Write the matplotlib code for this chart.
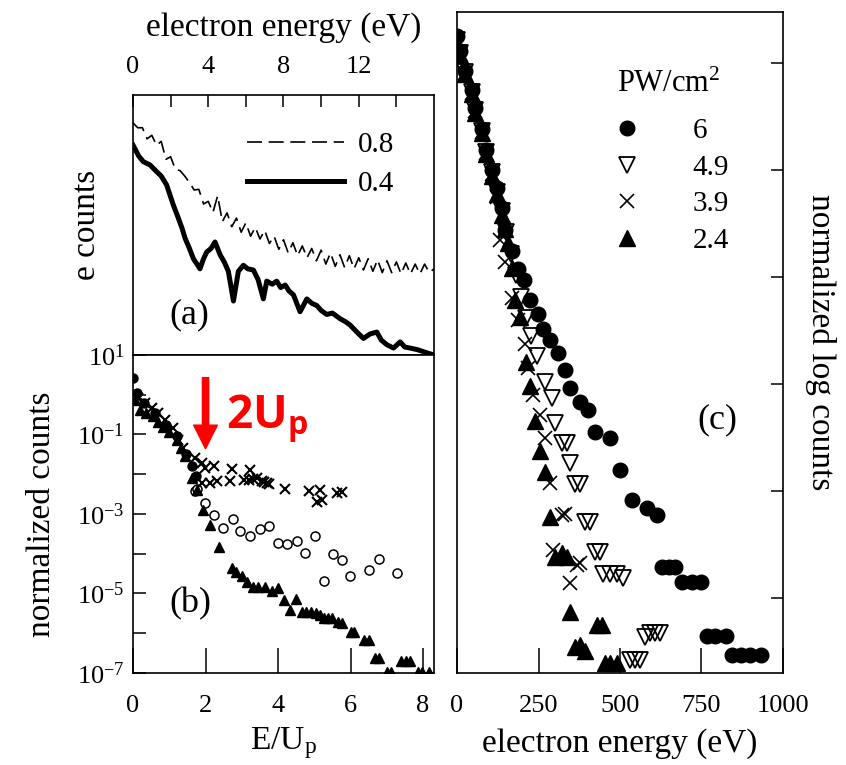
import numpy as np
import matplotlib
matplotlib.use("Agg")
import matplotlib.pyplot as plt
from matplotlib.ticker import FixedLocator, FuncFormatter, NullLocator
from matplotlib.lines import Line2D

plt.rcParams['font.family'] = ['Liberation Serif', 'DejaVu Serif']
plt.rcParams['mathtext.fontset'] = 'custom'
plt.rcParams['mathtext.rm'] = 'Liberation Serif'
plt.rcParams['mathtext.it'] = 'Liberation Serif:italic'
plt.rcParams['mathtext.bf'] = 'Liberation Serif:bold'
plt.rcParams['mathtext.sf'] = 'Open Sans:bold'
plt.rcParams['axes.linewidth'] = 1.2

# (a) electron spectra, x in eV, y in counts
a08_x = np.arange(0, 16.01, 0.25)
a08_y = [610, 560, 560, 460, 490, 410, 440, 320, 335, 268, 262, 238, 212, 186, 188, 145,
         152, 125, 168, 106, 124, 97, 113, 88, 104, 82, 96, 78, 91, 72, 82, 65,
         77, 61, 73, 58, 69, 56, 66, 53, 64, 50, 61, 48, 59, 47, 58, 46,
         56, 45, 55, 44, 54, 43, 53, 43, 52, 42, 51, 42, 50, 42, 50, 43, 46]
a04_x = [0.0, 0.3, 0.55, 0.9, 1.26, 1.5, 1.79, 2.14, 2.41, 2.6, 2.77, 3.0, 3.21, 3.4, 3.56,
         3.75, 3.92, 4.15, 4.36, 4.63, 4.85, 5.07, 5.34, 5.6, 5.87, 6.1, 6.4, 6.65, 6.93, 7.11,
         7.4, 7.64, 7.85, 8.09, 8.3, 8.53, 8.88, 9.24, 9.5, 9.77, 10.0, 10.3, 10.6, 11.01, 11.3,
         11.54, 11.9, 12.25, 12.6, 12.96, 13.2, 13.49, 13.85, 14.2, 14.45, 14.73, 15.1, 15.44, 15.7, 16.0]
a04_y = [412, 340, 307, 290, 257, 238, 203, 143, 113, 95, 79, 66, 55, 50, 46,
         55, 62, 66, 74, 59, 52, 44, 26, 44, 49, 46, 45, 38, 27, 37,
         35, 37, 33, 34.5, 31, 29, 21.5, 27, 25, 24, 22, 20.5, 21, 19, 18,
         17, 15, 13.4, 14.5, 15, 13, 12, 11.3, 12.6, 11.5, 11.3, 11, 10.6, 10.3, 10.0]

# (b) normalized counts vs E/Up, y given as log10
b_circ_x = [0.0, 0.1, 0.3, 0.6, 0.9, 1.2, 1.45, 1.62, 1.75]
b_circ_y = [0.42, 0.05, -0.2, -0.45, -0.75, -1.05, -1.5, -1.8, -2.05]
b_x_x = [0.15, 0.33, 0.52, 0.70, 0.88, 1.11, 1.25, 1.39, 1.71, 1.90, 1.99, 2.22, 2.73, 3.23,
         1.90, 2.13, 2.31, 2.68, 3.05, 3.19, 3.3, 3.42, 3.56, 3.6, 3.69, 3.75, 4.20, 4.84, 5.17,
         5.07, 5.21, 5.63, 5.77]
b_x_y = [-0.08, -0.21, -0.33, -0.46, -0.63, -0.84, -1.13, -1.34, -1.59, -1.72, -1.84, -1.80, -1.87, -1.90,
         -2.22, -2.21, -2.16, -2.16, -2.14, -2.14, -2.12, -2.10, -2.18, -2.2, -2.22, -2.25, -2.37, -2.43, -2.39,
         -2.69, -2.64, -2.47, -2.46]
b_open_x = [1.71, 1.76, 1.99, 2.22, 2.49, 2.77, 2.96, 3.23, 3.49, 3.74, 4.01, 4.25, 4.52, 4.75,
            5.03, 5.26, 5.51, 5.77, 5.99, 6.50, 6.78, 7.27]
b_open_y = [-2.43, -2.37, -2.73, -3.02, -3.36, -3.13, -3.42, -3.55, -3.38, -3.31, -3.73, -3.75, -3.68, -3.97,
            -3.55, -4.68, -4.01, -4.15, -4.57, -4.42, -4.14, -4.49]
b_tri_x = [0.05, 0.19, 0.35, 0.56, 0.70, 0.84, 1.0, 1.21, 1.33, 1.44, 1.62, 1.76, 1.94, 2.13, 2.36,
           2.73, 2.85, 3.00, 3.15, 3.32, 3.45, 3.65, 3.83, 4.01, 4.17, 4.34, 4.50, 4.65, 4.78, 4.92,
           5.05, 5.15, 5.26, 5.38, 5.49, 5.65, 5.77, 6.00, 6.10, 6.38, 6.50, 6.68, 6.78, 7.00, 7.12,
           7.40, 7.52, 7.65, 7.85, 7.98, 8.15]
b_tri_y = [-0.13, -0.38, -0.45, -0.54, -0.68, -0.80, -0.95, -1.13, -1.35, -1.55, -2.10, -2.40, -2.89, -3.27, -3.82,
           -4.36, -4.45, -4.57, -4.70, -4.83, -4.83, -4.83, -4.95, -4.87, -5.16, -5.41, -5.14, -5.46, -5.46, -5.46,
           -5.48, -5.55, -5.62, -5.62, -5.62, -5.72, -5.75, -5.96, -5.96, -6.17, -6.17, -6.63, -6.63, -6.97, -6.97,
           -6.69, -6.69, -6.69, -6.97, -6.97, -6.97]

# (c) normalized log counts vs electron energy (eV)
intensities = ['6', '4.9', '3.9', '2.4']
c6_x = [0, 9, 25, 45, 55, 76, 89, 106, 122, 137, 147, 168, 188, 204, 224, 249, 265, 285, 311, 331,
        347, 377, 402, 423, 469, 500, 536, 582, 613, 630, 650, 670, 690, 720, 748, 767, 790, 825, 843, 870,
        900, 932]
c6_y = [0.26, 0.12, -0.07, -0.25, -0.42, -0.61, -0.81, -1.0, -1.17, -1.35, -1.56, -1.75, -1.92, -2.03, -2.21,
        -2.34, -2.48, -2.59, -2.71, -2.87, -3.04, -3.17, -3.24, -3.45, -3.50, -3.80, -4.08, -4.16, -4.22, -4.71,
        -4.71, -4.71, -4.85, -4.85, -4.85, -5.35, -5.35, -5.35, -5.53, -5.53, -5.53, -5.53]
c49_x = [0, 9, 25, 45, 55, 76, 89, 106, 122, 137, 150, 165, 180, 196, 212, 228, 244, 270, 290, 301,
         321, 336, 347, 362, 377, 393, 408, 423, 439, 449, 469, 490, 510, 531, 546, 561, 577, 592, 607, 623]
c49_y = [0.22, 0.10, -0.08, -0.27, -0.44, -0.63, -0.83, -1.02, -1.20, -1.38, -1.58, -1.78, -1.98, -2.18, -2.38,
         -2.55, -2.74, -2.98, -3.13, -3.36, -3.55, -3.55, -3.74, -3.93, -3.93, -4.29, -4.29, -4.57, -4.57, -4.77,
         -4.77, -4.77, -4.81, -5.58, -5.58, -5.58, -5.36, -5.33, -5.33, -5.33]
c39_x = [0, 9, 25, 45, 55, 76, 89, 106, 122, 132, 147, 168, 188, 209, 219, 234, 255, 270, 285, 296,
         321, 331, 347, 367, 377]
c39_y = [0.20, 0.09, -0.09, -0.28, -0.45, -0.64, -0.84, -1.03, -1.25, -1.65, -1.86, -2.19, -2.40, -2.62, -2.85,
         -3.10, -3.29, -3.50, -3.92, -4.55, -4.22, -4.21, -4.86, -4.69, -4.67]
c24_x = [0, 9, 25, 45, 55, 76, 89, 106, 122, 137, 147, 157, 168, 178, 193, 213, 224, 239, 255, 270,
         285, 301, 321, 336, 347, 362, 377, 393, 429, 444, 454, 469, 490]
c24_y = [0.18, 0.08, -0.10, -0.29, -0.46, -0.65, -0.85, -1.05, -1.22, -1.42, -1.55, -1.68, -1.91, -2.21, -2.37,
         -2.79, -3.02, -3.34, -3.62, -3.82, -4.24, -4.62, -4.58, -4.62, -5.13, -5.46, -5.44, -5.49, -5.25, -5.25,
         -5.61, -5.61, -5.61]

fig = plt.figure(figsize=(8.46, 7.65), dpi=100)
ax_a = fig.add_axes([0.1572, 0.536, 0.3558, 0.3398])
ax_b = fig.add_axes([0.1572, 0.1203, 0.3558, 0.4157])
ax_c = fig.add_axes([0.5402, 0.1203, 0.3853, 0.8640])

# ---- panel (a)
ax_a.plot(a08_x, a08_y, color='black', lw=1.2, dashes=(9, 4), label='0.8')
ax_a.plot(a04_x, a04_y, color='black', lw=3.6, solid_joinstyle='round', label='0.4')
ax_a.set_yscale('log')
ax_a.set_ylim(10, 1000)
ax_a.set_xlim(0, 16)
ax_a.yaxis.set_major_locator(NullLocator())
ax_a.yaxis.set_minor_locator(NullLocator())
ax_a.xaxis.tick_top()
ax_a.xaxis.set_label_position('top')
ax_a.xaxis.set_major_locator(FixedLocator(np.arange(0, 15, 2)))
ax_a.xaxis.set_major_formatter(FuncFormatter(lambda v, p: '%d' % v if int(v) % 4 == 0 else ''))
ax_a.tick_params(axis='x', direction='in', length=8.6, width=1.1, labelsize=19, pad=12.5)
ax_a.set_xlabel('electron energy (eV)', fontsize=24, labelpad=14)
ax_a.set_ylabel('e counts', fontsize=24, labelpad=22)
ax_a.text(0.12, 0.12, '(a)', transform=ax_a.transAxes, fontsize=26)
ax_a.legend(loc='upper left', bbox_to_anchor=(0.38, 0.86), frameon=False, fontsize=21,
            handlelength=3.3, handletextpad=0.5, labelspacing=0.45, borderpad=0, borderaxespad=0)

# ---- panel (b)
ax_b.plot(b_open_x, np.power(10.0, b_open_y), ls='none', marker='o', ms=6.5, mfc='white', mec='black', mew=1.1)
ax_b.plot(b_x_x, np.power(10.0, b_x_y), ls='none', marker='x', ms=6.5, mec='black', mew=1.5)
ax_b.plot(b_tri_x, np.power(10.0, b_tri_y), ls='none', marker='^', ms=7, color='black')
ax_b.plot(b_circ_x, np.power(10.0, b_circ_y), ls='none', marker='o', ms=6.5, color='black')
ax_b.set_yscale('log')
ax_b.set_ylim(1e-7, 10)
ax_b.set_xlim(0, 8.3)
ax_b.yaxis.set_major_locator(FixedLocator([10.0 ** k for k in range(-7, 2)]))
ax_b.yaxis.set_minor_locator(NullLocator())
ax_b.yaxis.set_major_formatter(FuncFormatter(
    lambda v, p: r'$\mathregular{10^{%d}}$' % round(np.log10(v)) if round(np.log10(v)) % 2 else ''))
ax_b.xaxis.set_major_locator(FixedLocator([0, 2, 4, 6, 8]))
ax_b.tick_params(axis='y', direction='in', length=9.5, width=1.1, labelsize=19, pad=6)
ax_b.tick_params(axis='x', direction='in', length=18, width=1.1, labelsize=19, pad=16)
ax_b.set_xlabel('E/U$_\\mathregular{p}$', fontsize=24, labelpad=6)
ax_b.set_ylabel('normalized counts', fontsize=24, labelpad=14)
ax_b.text(0.12, 0.19, '(b)', transform=ax_b.transAxes, fontsize=26)
ax_b.annotate('', xy=(2.0, 10 ** -1.36), xytext=(2.0, 10 ** 0.43),
              arrowprops=dict(facecolor='red', edgecolor='red', width=4.5, headwidth=17,
                              headlength=17, shrink=0))
ax_b.text(0.31, 0.80, '2U$_\\mathsf{p}$', transform=ax_b.transAxes, color='red', fontsize=33,
          fontweight='bold', family='Open Sans', va='center')

# ---- panel (c)
ax_c.plot(c49_x, c49_y, ls='none', marker='v', ms=11, mfc='none', mec='black', mew=1.3)
ax_c.plot(c39_x, c39_y, ls='none', marker='x', ms=10, mec='black', mew=1.2)
ax_c.plot(c24_x, c24_y, ls='none', marker='^', ms=11, color='black')
ax_c.plot(c6_x, c6_y, ls='none', marker='o', ms=10.5, color='black')
ax_c.set_xlim(0, 1000)
ax_c.set_ylim(-5.70, 0.48)
ax_c.xaxis.set_major_locator(FixedLocator([0, 250, 500, 750, 1000]))
ax_c.yaxis.set_major_locator(FixedLocator([-5, -4, -3, -2, -1, 0]))
ax_c.yaxis.tick_right()
ax_c.yaxis.set_label_position('right')
ax_c.tick_params(axis='y', direction='in', length=8.6, width=1.1, labelright=False)
ax_c.tick_params(axis='x', direction='in', length=18, width=1.1, labelsize=19, pad=16)
ax_c.set_xlabel('electron energy (eV)', fontsize=24, labelpad=8)
ax_c.set_ylabel('normalized log counts', fontsize=24, rotation=270, labelpad=38)
ax_c.text(0.80, 0.37, '(c)', transform=ax_c.transAxes, fontsize=26, ha='center')

legend_handles = [Line2D([], [], ls='none', marker='o', ms=10.5, color='black'),
                  Line2D([], [], ls='none', marker='v', ms=11, mfc='none', mec='black', mew=1.3),
                  Line2D([], [], ls='none', marker='x', ms=10, mec='black', mew=1.2),
                  Line2D([], [], ls='none', marker='^', ms=11, color='black')]
ax_c.legend(legend_handles, intensities, loc='upper left',
            bbox_to_anchor=(0.477, 0.840), frameon=False, fontsize=21,
            handlelength=1.0, handletextpad=1.74, labelspacing=0.35, borderpad=0, borderaxespad=0)
ax_c.text(0.491, 0.89, 'PW/cm$^2$', transform=ax_c.transAxes, fontsize=22, va='center')

fig.savefig('out.png', dpi=100)
